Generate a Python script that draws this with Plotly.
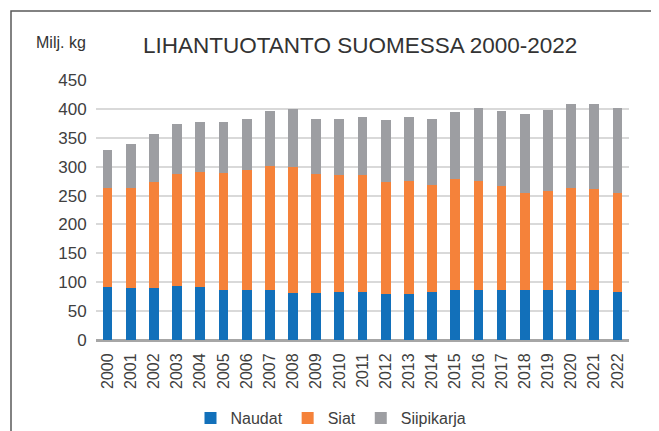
import plotly.graph_objects as go

years = [str(y) for y in range(2000, 2023)]
naudat = [91, 90, 90, 94, 92, 86, 86, 87, 81, 81, 83, 83, 79, 79, 83, 86, 86, 86, 87, 87, 86, 86, 83]
siat = [172, 173, 184, 194, 199, 203, 209, 214, 218, 206, 202, 202, 195, 197, 186, 193, 190, 181, 168, 171, 177, 175, 171]
siipikarja = [65, 76, 83, 85, 87, 88, 87, 95, 100, 95, 97, 101, 107, 110, 113, 116, 126, 129, 136, 140, 145, 148, 148]

colors = {"Naudat": "#1270BA", "Siat": "#F5823A", "Siipikarja": "#9D9EA2"}

fig = go.Figure()
for name, vals in [("Naudat", naudat), ("Siat", siat), ("Siipikarja", siipikarja)]:
    fig.add_trace(go.Bar(x=years, y=vals, name=name, marker=dict(color=colors[name], line=dict(width=0))))

# page has an 8px body margin: figure drawn at (8, 8) on screen
OFF = 8
W, H = 659 - OFF, 431 - OFF
PL, PR, PT, PB = 96, 629, 80, 340  # plot area in screen pixels
L, T = PL - OFF, PT - OFF
R = W - L - (PR - PL)
B = H - T - (PB - PT)
pw, ph = PR - PL, PB - PT

def px(x):
    return (x - PL) / pw

def py(y):
    return (PB - y) / ph

fig.update_layout(
    width=W, height=H,
    margin=dict(l=L, r=R, t=T, b=B, autoexpand=False),
    barmode="stack", bargap=0.58,
    paper_bgcolor="white", plot_bgcolor="white",
    font=dict(family="Liberation Sans, Arial, sans-serif", color="#404040", size=16),
    showlegend=True,
    legend=dict(orientation="h", x=px(331), xanchor="center", y=py(418), yanchor="middle",
                font=dict(size=16, color="#404040"), traceorder="normal", itemwidth=30,
                tracegroupgap=0),
    xaxis=dict(tickangle=-90, tickfont=dict(size=16), showgrid=False, ticks="outside", ticklen=6,
               tickcolor="rgba(0,0,0,0)", type="category", showline=False, automargin=False),
    yaxis=dict(range=[0, 450], dtick=50, showgrid=True, gridcolor="#D9D9D9", gridwidth=1.5,
               zeroline=True, zerolinecolor="#A6A6A6", zerolinewidth=2.5, ticks="outside", ticklen=5,
               tickcolor="rgba(0,0,0,0)", tickfont=dict(size=17), showline=False, automargin=False),
    annotations=[
        dict(text="LIHANTUOTANTO SUOMESSA 2000-2022", x=px(360), y=py(45), xref="paper", yref="paper",
             showarrow=False, font=dict(size=22.5, color="#333333"), xanchor="center", yanchor="middle"),
        dict(text="Milj. kg", x=px(34), y=py(42), xref="paper", yref="paper",
             showarrow=False, font=dict(size=16, color="#333333"), xanchor="left", yanchor="middle"),
    ],
    shapes=[
        dict(type="rect", xref="paper", yref="paper", x0=px(11), x1=px(690), y0=py(470), y1=py(11),
             line=dict(color="#595959", width=1.5), fillcolor="rgba(0,0,0,0)", layer="below"),
    ],
)

fig.write_html("out.html")
